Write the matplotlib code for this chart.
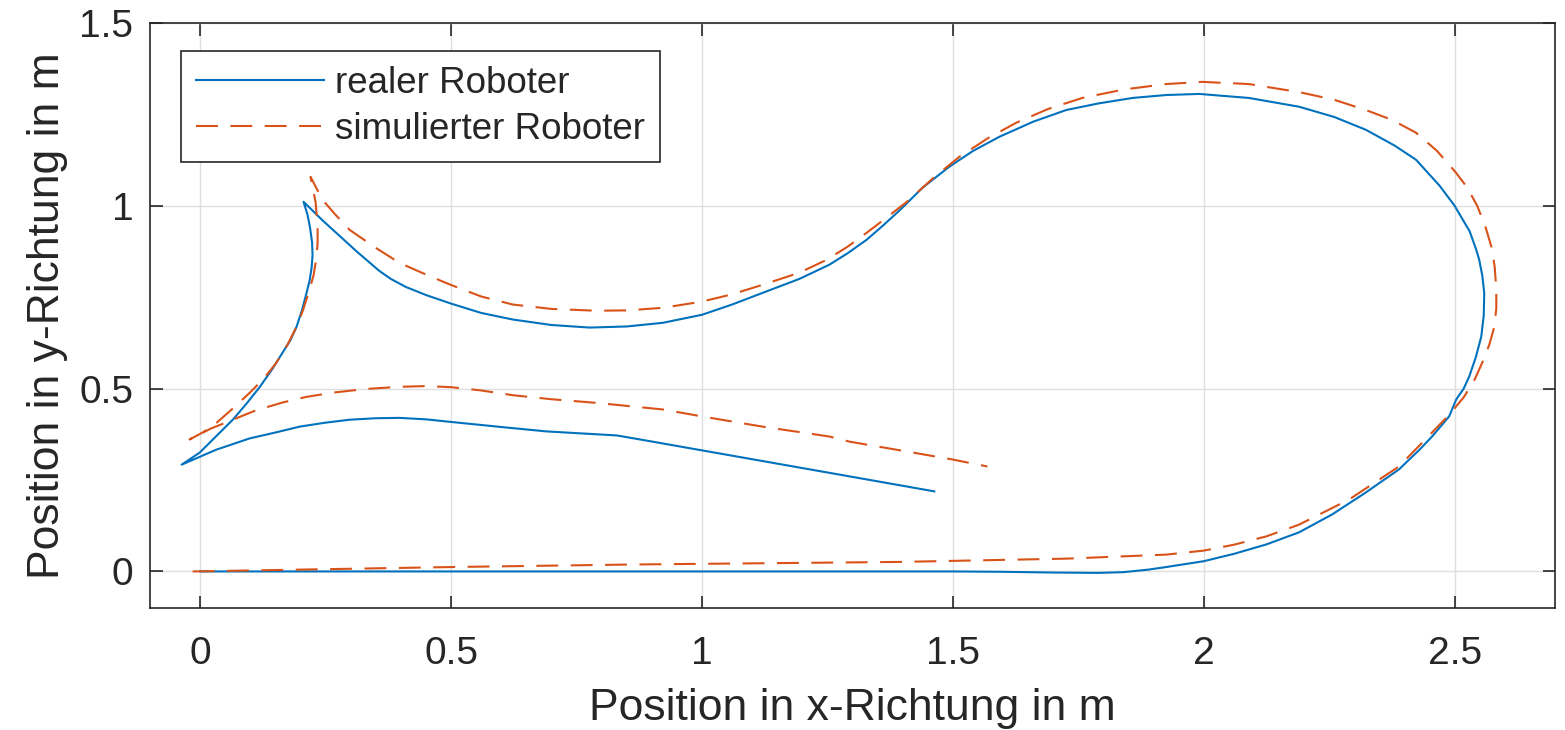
import matplotlib
matplotlib.use("Agg")
import matplotlib.pyplot as plt
from matplotlib.ticker import FuncFormatter

plt.rcParams['font.family'] = ['Liberation Sans', 'DejaVu Sans']

real_x = [0.0, 0.5, 1.0, 1.5, 1.6, 1.7, 1.79, 1.84, 1.89, 1.925, 2.0, 2.06, 2.125, 2.19, 2.256,
          2.323, 2.389, 2.43, 2.455, 2.489, 2.503, 2.518, 2.529, 2.542, 2.553, 2.558, 2.559,
          2.555, 2.549, 2.543, 2.53, 2.5, 2.47, 2.423, 2.38, 2.323, 2.26, 2.19, 2.09, 1.991,
          1.925, 1.858, 1.79, 1.726, 1.66, 1.593, 1.54, 1.493, 1.44, 1.395, 1.36, 1.328, 1.29,
          1.254, 1.194, 1.121, 1.06, 1.0, 0.922, 0.85, 0.776, 0.70, 0.623, 0.56, 0.499, 0.45,
          0.41, 0.38, 0.357, 0.312, 0.28, 0.244, 0.206,
          0.214, 0.219, 0.223, 0.224, 0.222, 0.218, 0.212, 0.203, 0.192, 0.18, 0.164, 0.143,
          0.119, 0.093, 0.065, 0.032, -0.001, -0.037,
          0.032, 0.099, 0.15, 0.198, 0.25, 0.298, 0.35, 0.397, 0.45, 0.499, 0.6, 0.69, 0.83,
          0.889, 1.294, 1.463]
real_y = [0.0, 0.0, 0.0, 0.0, -0.001, -0.003, -0.004, -0.002, 0.005, 0.012, 0.028, 0.048,
          0.074, 0.107, 0.156, 0.216, 0.279, 0.333, 0.369, 0.424, 0.47, 0.50, 0.533, 0.585,
          0.642, 0.70, 0.762, 0.81, 0.852, 0.88, 0.93, 1.0, 1.055, 1.126, 1.165, 1.208, 1.243,
          1.271, 1.295, 1.306, 1.303, 1.295, 1.28, 1.262, 1.23, 1.189, 1.15, 1.107, 1.05,
          0.989, 0.945, 0.907, 0.87, 0.839, 0.80, 0.762, 0.73, 0.702, 0.680, 0.670, 0.667,
          0.674, 0.689, 0.707, 0.733, 0.756, 0.778, 0.80, 0.822, 0.875, 0.915, 0.960, 1.011,
          0.975, 0.94, 0.90, 0.865, 0.83, 0.795, 0.762, 0.715, 0.669, 0.633, 0.598, 0.552,
          0.505, 0.46, 0.415, 0.37, 0.325, 0.292,
          0.333, 0.364, 0.38, 0.396, 0.407, 0.415, 0.419, 0.420, 0.416, 0.409, 0.395, 0.383,
          0.372, 0.358, 0.26, 0.219]

# simulated robot path
sim_x = [-0.015, 0.5, 0.862, 1.393, 1.726, 1.925, 2.0, 2.06, 2.125, 2.19, 2.29, 2.389, 2.455,
         2.49, 2.519, 2.54, 2.555, 2.569, 2.579, 2.583, 2.583, 2.58, 2.575, 2.562, 2.545,
         2.525, 2.503, 2.465, 2.423, 2.375, 2.323, 2.26, 2.19, 2.09, 1.997, 1.925, 1.84,
         1.758, 1.69, 1.626, 1.57, 1.513, 1.46, 1.413, 1.37, 1.328, 1.29, 1.248, 1.194, 1.121,
         1.06, 1.0, 0.922, 0.85, 0.79, 0.70, 0.623, 0.56, 0.499, 0.45, 0.397, 0.35, 0.298,
         0.27, 0.244, 0.22,
         0.23, 0.234, 0.234, 0.232, 0.226, 0.216, 0.205, 0.192, 0.174, 0.152, 0.127, 0.099,
         0.067, 0.033, 0.005, -0.021,
         0.02, 0.065, 0.11, 0.164, 0.21, 0.264, 0.33, 0.397, 0.45, 0.5, 0.56, 0.623, 0.70,
         0.79, 0.922, 1.0, 1.121, 1.254, 1.294, 1.4, 1.5, 1.569]
sim_y = [0.0, 0.012, 0.019, 0.026, 0.035, 0.046, 0.057, 0.073, 0.096, 0.128, 0.197, 0.287, 0.38,
         0.43, 0.478, 0.525, 0.571, 0.62, 0.669, 0.72, 0.77, 0.83, 0.88, 0.94, 1.0,
         1.05, 1.09, 1.15, 1.2, 1.235, 1.262, 1.29, 1.311, 1.333, 1.339, 1.333, 1.318,
         1.295, 1.265, 1.227, 1.185, 1.134, 1.075, 1.016, 0.97, 0.926, 0.888, 0.852, 0.817,
         0.784, 0.758, 0.738, 0.721, 0.714, 0.713, 0.718, 0.73, 0.752, 0.784, 0.812, 0.844,
         0.885, 0.934, 0.975, 1.016, 1.079,
         1.01, 0.943, 0.90, 0.861, 0.81, 0.762, 0.715, 0.669, 0.62, 0.571, 0.528, 0.489,
         0.448, 0.407, 0.38, 0.361,
         0.39, 0.415, 0.44, 0.462, 0.477, 0.489, 0.499, 0.505, 0.507, 0.504, 0.495, 0.482,
         0.471, 0.461, 0.443, 0.424, 0.396, 0.369, 0.355, 0.33, 0.306, 0.287]

x_ticks = [0, 0.5, 1, 1.5, 2, 2.5]
y_ticks = [0, 0.5, 1, 1.5]

dark = '#262626'
fig = plt.figure(figsize=(15.65, 7.3), dpi=100)
ax = fig.add_axes([150/1565, (730-608)/730, (1555-150)/1565, (608-23)/730])

ax.plot(real_x, real_y, color='#0072BD', lw=1.5, label='realer Roboter')
ax.plot(sim_x, sim_y, color='#D95319', lw=1.5, dashes=(10.5, 6), label='simulierter Roboter')

ax.set_xlim(-0.1, 2.7)
ax.set_ylim(-0.1, 1.5)
ax.set_xticks(x_ticks)
ax.set_yticks(y_ticks)
fmt = FuncFormatter(lambda v, p: '%g' % v)
ax.xaxis.set_major_formatter(fmt)
ax.yaxis.set_major_formatter(fmt)
ax.grid(True, color='#dfdfdf', lw=1.0)
ax.set_axisbelow(True)
ax.tick_params(direction='in', length=9, width=1.2, colors=dark, labelsize=28,
               top=True, right=True)
ax.tick_params(axis='x', pad=20)
ax.tick_params(axis='y', pad=12)
for s in ax.spines.values():
    s.set_color(dark)
    s.set_linewidth(1.2)

ax.set_xlabel('Position in x-Richtung in m', fontsize=32, color=dark, labelpad=12)
ax.set_ylabel('Position in y-Richtung in m', fontsize=32, color=dark, labelpad=8)

leg = ax.legend(loc='upper left', bbox_to_anchor=(0.022, 0.952), borderaxespad=0,
                fontsize=26.5, handlelength=3.5, handletextpad=0.3, borderpad=0.4,
                labelspacing=0.3, fancybox=False, framealpha=1)
leg.get_frame().set_edgecolor(dark)
leg.get_frame().set_linewidth(1.2)
for t in leg.get_texts():
    t.set_color(dark)

plt.savefig('out.png', dpi=100)
